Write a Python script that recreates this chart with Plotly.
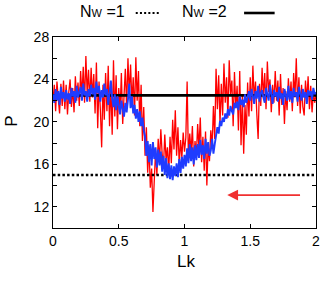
import plotly.graph_objects as go

lk = [i / 100 for i in range(201)]

red_p = [
    22.0, 23.5, 21.0, 23.8, 22.2, 20.8, 23.6, 21.5, 23.9, 21.2,
    23.5, 20.7, 22.8, 24.0, 21.4, 23.2, 20.9, 24.3, 22.0, 23.7,
    21.5, 24.8, 22.4, 25.2, 21.8, 26.2, 22.6, 24.9, 21.9, 25.1,
    22.3, 24.5, 20.8, 25.6, 19.4, 23.8, 21.2, 17.6, 23.5, 20.2,
    24.6, 21.0, 25.3, 19.6, 23.7, 18.8, 25.8, 20.5, 24.4, 19.3,
    23.2, 21.0, 24.6, 19.8, 22.4, 25.0, 21.3, 26.0, 22.5, 25.4,
    21.8, 24.2, 20.6, 26.1, 22.0, 24.8, 19.6, 23.5, 18.2, 21.4,
    16.8, 19.5, 15.2, 17.8, 13.8, 15.6, 11.5, 14.2, 17.3, 15.0,
    18.4, 16.2, 19.3, 17.0, 15.8, 18.8, 16.4, 17.6, 15.3, 18.6,
    16.1, 20.2, 17.4, 21.1, 16.8, 19.5, 15.9, 18.3, 16.6, 19.0,
    17.2, 18.5, 23.8, 16.4, 18.9, 17.1, 19.6, 15.8, 18.2, 16.7,
    19.8, 17.5, 20.4, 16.2, 18.6, 15.4, 19.1, 14.0, 17.8, 16.3,
    19.2, 17.6, 21.5, 18.4, 25.0, 21.2, 24.4, 19.8, 23.6, 20.6,
    25.5, 21.8, 24.2, 20.4, 25.8, 22.6, 23.9, 19.6, 24.7, 21.3,
    23.4, 19.2, 24.8, 17.8, 22.5, 17.0, 21.6, 18.8, 23.7, 20.5,
    24.2, 21.0, 25.3, 22.1, 23.8, 20.7, 18.4, 23.6, 21.5, 25.1,
    22.3, 24.6, 21.2, 25.7, 22.8, 24.0, 20.9, 23.5, 21.8, 24.8,
    22.0, 23.9, 20.6, 24.5, 21.6, 23.2, 19.8, 22.9, 21.1, 24.1,
    21.9, 23.8, 21.0, 24.6, 22.3, 26.0, 21.5, 24.2, 20.8, 23.5,
    21.4, 20.6, 23.9, 22.0, 24.3, 21.2, 23.4, 20.9, 22.8, 21.8,
    22.6,
]

blue_p = [
    22.6, 21.8, 23.1, 22.0, 22.9, 21.6, 23.3, 22.2, 22.8, 21.9,
    23.0, 22.1, 22.7, 21.7, 23.2, 22.4, 22.9, 21.8, 23.4, 22.3,
    22.8, 23.3, 22.0, 23.6, 22.5, 22.9, 21.9, 23.1, 22.4, 23.5,
    22.6, 23.2, 22.1, 23.8, 22.7, 23.4, 21.9, 23.0, 22.3, 23.6,
    22.5, 23.1, 21.6, 22.7, 23.9, 22.2, 21.4, 22.6, 21.1, 22.4,
    21.5, 20.7, 22.0, 21.2, 20.5, 21.8, 20.9, 22.1, 23.6, 21.3,
    22.4, 20.8, 21.6, 20.3, 21.2, 20.0, 21.0, 19.6, 20.4, 19.2,
    18.6, 16.8, 18.2, 16.2, 17.9, 15.9, 18.1, 16.5, 17.6, 15.7,
    17.4, 15.9, 17.2, 15.3, 16.8, 15.0, 16.6, 14.7, 16.1, 14.6,
    15.9, 14.5, 15.8, 14.9, 16.1, 14.8, 16.5, 15.2, 16.7, 15.6,
    16.9, 15.8, 17.5, 16.1, 17.9, 16.3, 17.6, 16.0, 17.8, 16.4,
    17.9, 16.6, 18.3, 16.9, 17.8, 16.5, 18.4, 17.0, 18.1, 16.8,
    17.3, 18.4, 17.0, 17.9, 18.8, 19.5, 18.9, 20.1, 19.6, 20.4,
    20.0, 20.8, 20.3, 21.2, 20.6, 21.5, 21.0, 20.7, 21.8, 21.3,
    21.9, 21.1, 22.4, 21.6, 22.1, 21.4, 22.6, 21.8, 22.3, 22.9,
    22.0, 23.1, 22.4, 21.7, 22.9, 22.2, 23.4, 21.9, 22.7, 23.0,
    22.3, 21.8, 23.2, 22.5, 22.0, 23.5, 22.6, 21.7, 23.0, 22.4,
    22.8, 21.9, 23.3, 22.2, 22.7, 21.6, 23.1, 22.5, 22.0, 23.4,
    22.1, 22.9, 21.8, 23.2, 22.4, 22.8, 21.9, 23.3, 22.6, 22.0,
    23.1, 22.3, 22.8, 21.7, 23.0, 22.5, 22.9, 22.1, 23.2, 22.6,
    22.8,
]

nw_levels = [15.0, 22.5]          # Nw=1 (dotted), Nw=2 (solid)
lk_span = [0, 2]
arrow_from = [1.89, 13.1]
arrow_to = [1.325, 13.1]

x_ticks = [0, 0.5, 1, 1.5, 2]
x_ticktext = ["0", "0.5", "1", "1.5", "2"]
y_ticks = [12, 14, 16, 18, 20, 22, 24, 26, 28]
y_ticktext = ["12", "", "16", "", "20", "", "24", "", "28"]

FONT = "Liberation Sans, Arial, sans-serif"
RED = "#ff0000"
BLUE = "#1f3cff"

fig = go.Figure()

fig.add_trace(go.Scatter(x=lk, y=red_p, mode="lines",
                         line=dict(color=RED, width=1.3), hoverinfo="skip"))
fig.add_trace(go.Scatter(x=lk_span, y=[nw_levels[0]] * 2, mode="lines",
                         line=dict(color="black", width=2.6, dash="2.5px,2.2px")))
fig.add_trace(go.Scatter(x=lk_span, y=[nw_levels[1]] * 2, mode="lines",
                         line=dict(color="black", width=2.8)))
fig.add_trace(go.Scatter(x=lk, y=blue_p, mode="lines",
                         line=dict(color=BLUE, width=1.9), hoverinfo="skip"))

axis_common = dict(showline=True, linecolor="black", linewidth=1, mirror="allticks",
                   ticks="inside", ticklen=4, tickcolor="black", tickwidth=1,
                   showgrid=False, zeroline=False, ticklabeloverflow="allow",
                   tickfont=dict(family=FONT, size=14, color="black"))

fig.update_xaxes(range=[0, 2], tickvals=x_ticks, ticktext=x_ticktext, **axis_common)
fig.update_yaxes(range=[10, 28], tickvals=y_ticks, ticktext=y_ticktext, **axis_common)

PW, PH, L, T = 267, 191, 53, 37


def px(x):
    return (x - L) / PW


def py(y):
    return (T + PH - y) / PH


annotations = [
    dict(text="Lk", x=px(188), y=py(261), xref="paper", yref="paper",
         showarrow=False, font=dict(family=FONT, size=17, color="black"),
         xanchor="center", yanchor="middle"),
    dict(text="P", x=px(10), y=py(121), xref="paper", yref="paper", textangle=-90,
         showarrow=False, font=dict(family=FONT, size=17, color="black"),
         xanchor="center", yanchor="middle"),
    dict(text="N<span style='font-size:11px'>W</span> =1", x=px(78), y=py(12),
         xref="paper", yref="paper", showarrow=False, xanchor="left", yanchor="middle",
         font=dict(family=FONT, size=16, color="black")),
    dict(text="N<span style='font-size:11px'>W</span> =2", x=px(182), y=py(12),
         xref="paper", yref="paper", showarrow=False, xanchor="left", yanchor="middle",
         font=dict(family=FONT, size=16, color="black")),
    dict(x=arrow_to[0], y=arrow_to[1], ax=arrow_from[0], ay=arrow_from[1],
         xref="x", yref="y", axref="x", ayref="y", showarrow=True, text="",
         arrowhead=2, arrowsize=1.2, arrowwidth=1.8, arrowcolor="#f03030"),
]

shapes = [
    dict(type="line", xref="paper", yref="paper", x0=px(137), x1=px(162),
         y0=py(13), y1=py(13), line=dict(color="black", width=2.2, dash="2px,2.2px")),
    dict(type="line", xref="paper", yref="paper", x0=px(247), x1=px(278),
         y0=py(13), y1=py(13), line=dict(color="black", width=2.6)),
]

fig.update_layout(width=326, height=281, margin=dict(l=L, r=326 - L - PW, t=T, b=281 - T - PH),
                  plot_bgcolor="white", paper_bgcolor="white", showlegend=False,
                  annotations=annotations, shapes=shapes,
                  font=dict(family=FONT, color="black"))

fig.write_html("out.html", config={"displayModeBar": False},
               post_script="document.body.style.margin='0';document.body.style.overflow='hidden';")
